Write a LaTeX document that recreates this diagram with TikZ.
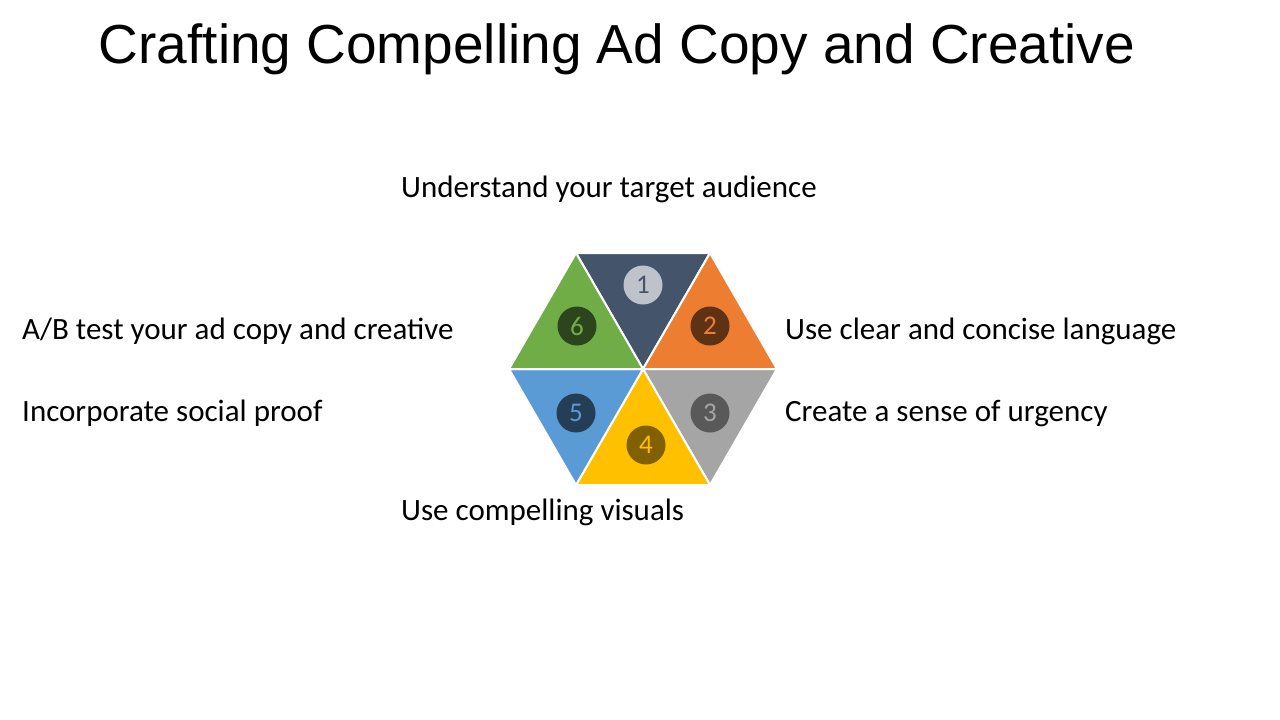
\documentclass[tikz,border=0pt]{standalone}
\usepackage{fontspec}
\setmainfont{Carlito}
\newfontfamily\titlefont{Liberation Sans}
\usepackage{tikz}

\definecolor{navyA}{HTML}{44546A}
\definecolor{orangeA}{HTML}{ED7D31}
\definecolor{grayA}{HTML}{A5A5A5}
\definecolor{goldA}{HTML}{FFC000}
\definecolor{blueA}{HTML}{5B9BD5}
\definecolor{greenA}{HTML}{70AD47}

\tikzset{
  tri/.style={draw=white, line width=2pt, line join=round},
  badge/.style={circle, minimum size=39pt, inner sep=0pt, font=\fontsize{27}{27}\selectfont},
  label/.style={anchor=base west, inner sep=0pt, font=\fontsize{31}{31}\selectfont}
}

\begin{document}
\begin{tikzpicture}[x=1pt,y=-1pt]
\useasboundingbox (0,0) rectangle (1280,720);
\node[anchor=base, inner sep=0pt, font=\titlefont\fontsize{55}{55}\selectfont] (title) at (617,63) {Crafting Compelling Ad Copy and Creative};
% hexagon of six triangles
\coordinate (O) at (643,369);
\draw[tri, fill=navyA] (O) -- (576,253) -- (710,253) -- cycle;
\draw[tri, fill=orangeA] (O) -- (710,253) -- (777,369) -- cycle;
\draw[tri, fill=grayA] (O) -- (777,369) -- (710,485) -- cycle;
\draw[tri, fill=goldA] (O) -- (710,485) -- (576,485) -- cycle;
\draw[tri, fill=blueA] (O) -- (576,485) -- (509,369) -- cycle;
\draw[tri, fill=greenA] (O) -- (509,369) -- (576,253) -- cycle;
% numbered circles
\node[badge, fill=navyA!35!white, text=navyA] (n1) at (643,285) {1};
\node[badge, fill=orangeA!40!black, text=orangeA] (n2) at (710,326) {2};
\node[badge, fill=black!65, text=grayA] (n3) at (710,413) {3};
\node[badge, fill=goldA!50!black, text=goldA] (n4) at (646,445) {4};
\node[badge, fill=blueA!40!black, text=blueA] (n5) at (576,413) {5};
\node[badge, fill=greenA!40!black, text=greenA] (n6) at (577,326) {6};
% labels
\node[label] (l1) at (401,197) {Understand your target audience};
\node[label] (l2) at (785,339) {Use clear and concise language};
\node[label] (l3) at (785,421) {Create a sense of urgency};
\node[label] (l4) at (401,520) {Use compelling visuals};
\node[label] (l5) at (22,421) {Incorporate social proof};
\node[label] (l6) at (22,339) {A/B test your ad copy and creative};
\end{tikzpicture}
\end{document}
